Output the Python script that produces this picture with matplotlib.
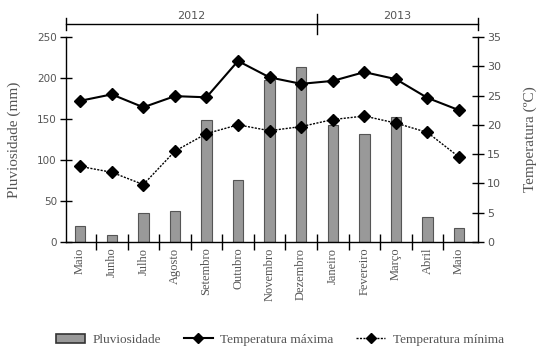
import matplotlib
matplotlib.use("Agg")
import matplotlib.pyplot as plt
import matplotlib.transforms as mtransforms
from matplotlib.lines import Line2D
from matplotlib.patches import Patch

months = ["Maio", "Junho", "Julho", "Agosto", "Setembro", "Outubro", "Novembro",
          "Dezembro", "Janeiro", "Fevereiro", "Março", "Abril", "Maio"]
rain = [19, 9, 35, 38, 149, 75, 197, 213, 143, 132, 153, 30, 17]
tmax = [24.1, 25.2, 23.0, 24.9, 24.7, 30.9, 28.1, 27.0, 27.5, 29.0, 27.8, 24.6, 22.5]
tmin = [12.9, 11.9, 9.8, 15.5, 18.5, 20.0, 19.0, 19.7, 20.9, 21.5, 20.3, 18.7, 14.5]
years = ["2012", "2013"]
year_spans = [(-0.45, 7.5), (7.5, 12.6)]

txt = "#555555"
lab_font = "Liberation Serif"

fig = plt.figure(figsize=(5.45, 3.59), dpi=100)
ax = fig.add_axes([0.121, 0.326, 0.756, 0.571])
ax2 = ax.twinx()

x = list(range(len(months)))
ax.bar(x, rain, width=0.33, color="#999999", edgecolor="#555555", linewidth=0.8, zorder=2)
ax2.plot(x, tmax, color="black", lw=1.5, marker="D", ms=6, zorder=3)
ax2.plot(x, tmin, color="black", lw=1.0, ls=(0, (1.5, 1)), marker="D", ms=6, zorder=3)

ax.set_xlim(-0.45, 12.6)
ax.set_ylim(0, 250)
ax2.set_ylim(0, 35)
ax.set_yticks(range(0, 251, 50))
ax2.set_yticks(range(0, 36, 5))

for a in (ax, ax2):
    a.spines["top"].set_visible(False)
    for s in a.spines.values():
        s.set_color("black")
        s.set_linewidth(1.0)
ax.spines["right"].set_visible(False)
ax2.spines["left"].set_visible(False)
ax2.spines["bottom"].set_visible(False)

ax.tick_params(axis="y", direction="inout", length=9, width=1, labelsize=7.5, labelcolor=txt, pad=2)
ax2.tick_params(axis="y", direction="inout", length=9, width=1, labelsize=8, labelcolor=txt, pad=2)

ax.set_xticks(x)
ax.set_xticklabels(months, rotation=90, fontsize=9, family=lab_font, color=txt)
ax.tick_params(axis="x", which="major", length=0, pad=4)
ax.set_xticks([i + 0.5 for i in x[:-1]], minor=True)
ax.tick_params(axis="x", which="minor", direction="inout", length=12, width=1)

ax.set_ylabel("Pluviosidade (mm)", family=lab_font, fontsize=11, color=txt, labelpad=12)
ax2.set_ylabel("Temperatura (ºC)", family=lab_font, fontsize=11, color=txt, labelpad=16)

# Year brackets
trans = mtransforms.blended_transform_factory(ax.transData, ax.transAxes)
ybr = 1.063
for yr, (a0, a1) in zip(years, year_spans):
    ax.plot([a0, a1], [ybr, ybr], color="black", lw=1.0, transform=trans, clip_on=False)
    ax.text((a0 + a1) / 2, ybr + 0.015, yr, transform=trans, ha="center", va="bottom",
            fontsize=8, color=txt)
for xb, h in [(-0.45, 0.03), (7.5, 0.05), (12.6, 0.03)]:
    ax.plot([xb, xb], [ybr - h, ybr + h], color="black", lw=1.0, transform=trans, clip_on=False)

handles = [
    Patch(facecolor="#999999", edgecolor="#333333", linewidth=1.2),
    Line2D([0], [0], color="black", lw=1.5, marker="D", ms=5.5),
    Line2D([0], [0], color="black", lw=1.0, ls=(0, (1.5, 1)), marker="D", ms=5.5),
]
labels = ["Pluviosidade", "Temperatura máxima", "Temperatura mínima"]
leg = fig.legend(handles, labels, loc="center left", bbox_to_anchor=(0.09, 0.053), ncol=3,
                 frameon=False, handlelength=2.2, handletextpad=0.6, columnspacing=1.7,
                 borderpad=0, prop={"family": lab_font, "size": 9.5})
for t in leg.get_texts():
    t.set_color(txt)

fig.savefig("out.png", dpi=100)
